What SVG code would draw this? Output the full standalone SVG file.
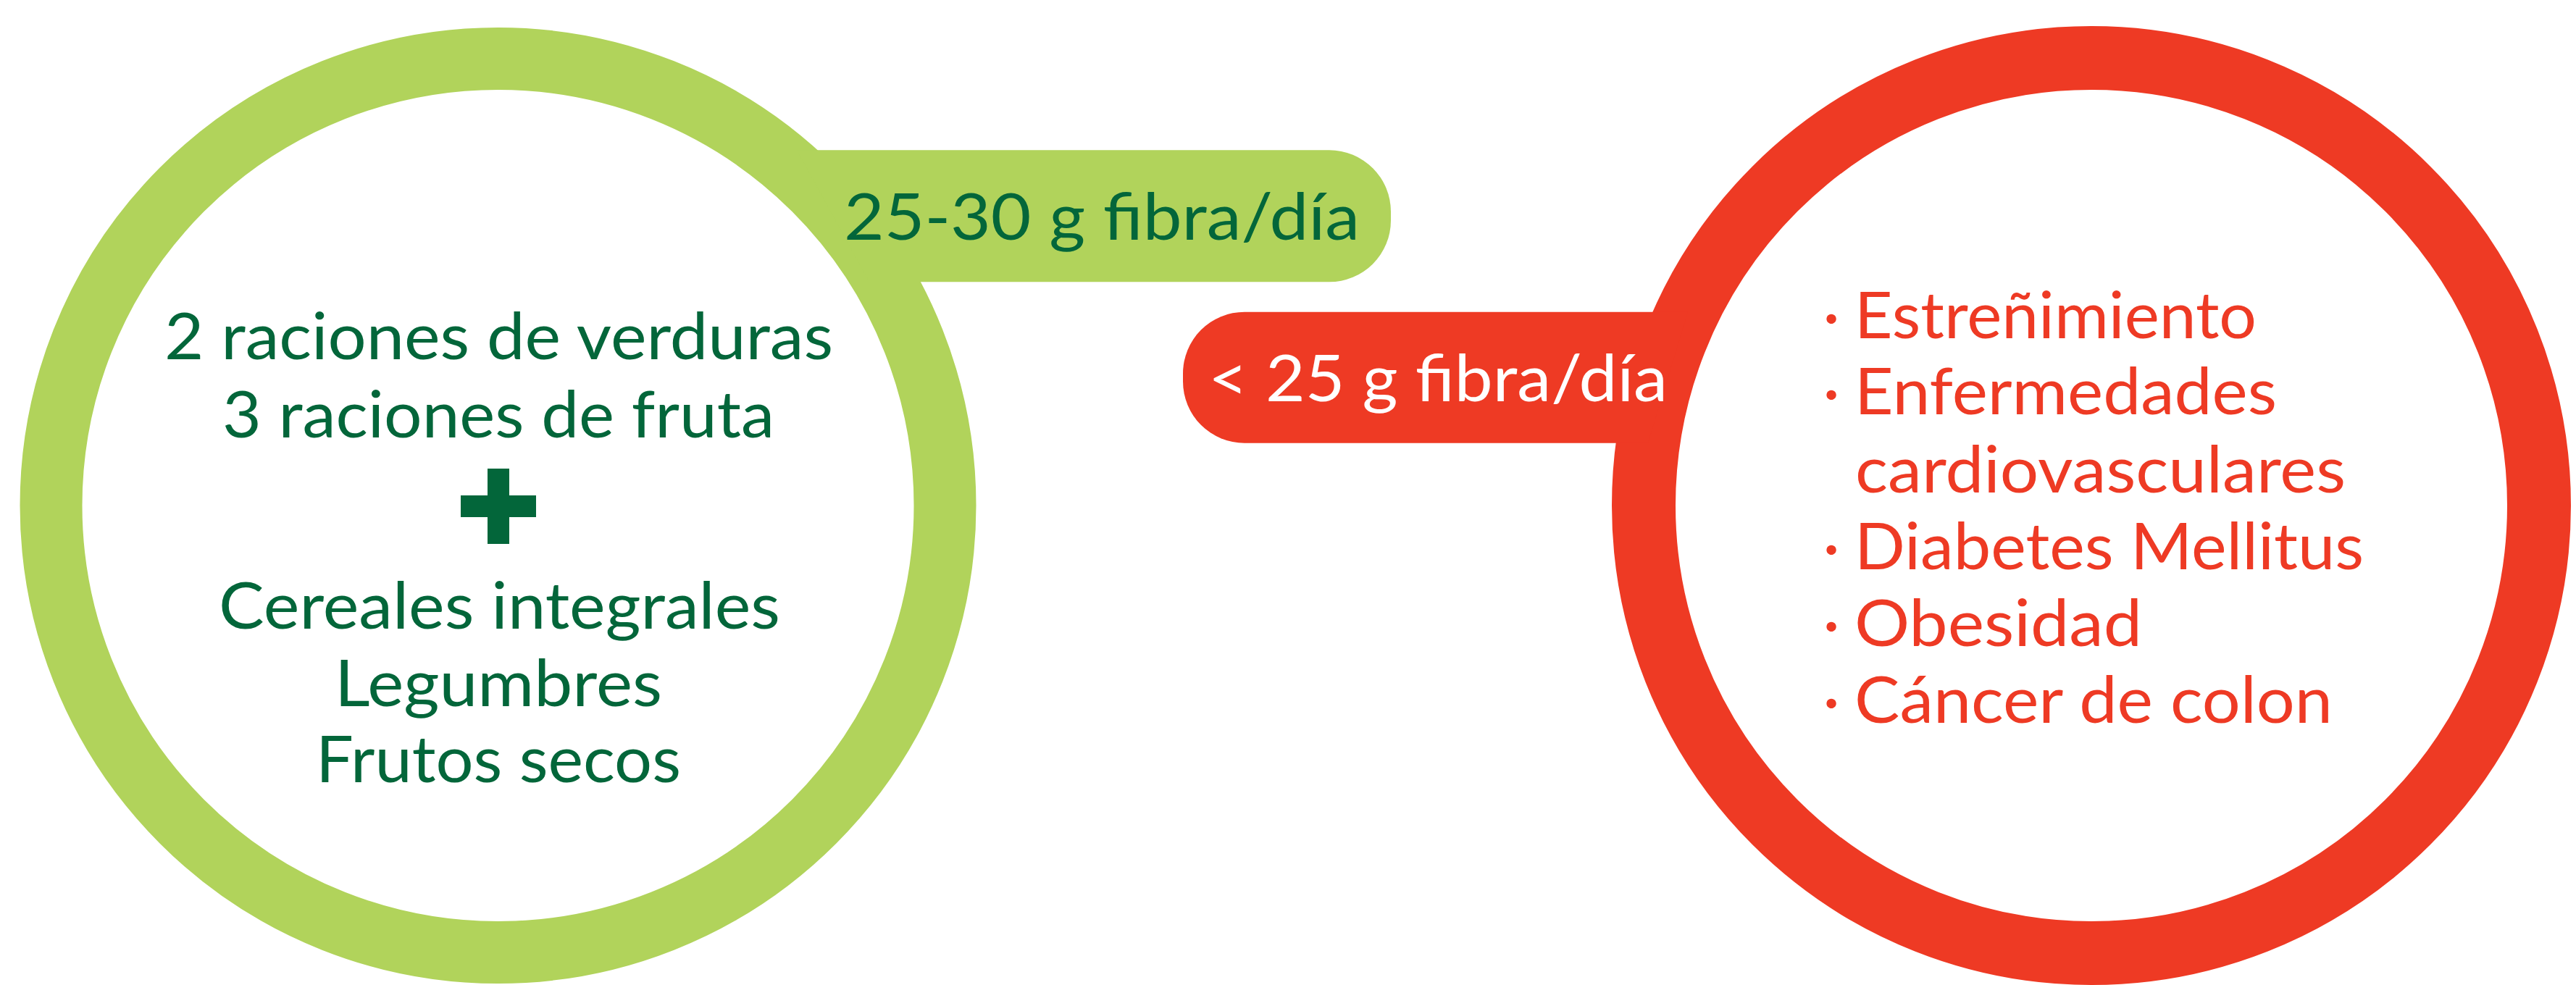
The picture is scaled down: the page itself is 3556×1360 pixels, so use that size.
<svg xmlns="http://www.w3.org/2000/svg" width="3556" height="1360" viewBox="0 0 3556 1360">
  <style>
    .txt { font-family: Lato, "Open Sans", "Liberation Sans", sans-serif; font-size: 89px; font-weight: 400; }
    .green-txt { fill: #03663A; }
    .red-txt { fill: #EE3A24; }
    .white-txt { fill: #FFFFFF; }
    .ring-green { fill: #FFFFFF; stroke: #B1D35B; stroke-width: 86; }
    .ring-red { fill: #FFFFFF; stroke: #EE3A24; stroke-width: 88; }
    .tab-green { fill: #B1D35B; }
    .tab-red { fill: #EE3A24; }
  </style>
  <rect width="3556" height="1360" fill="#FFFFFF"/>

  <!-- Left node: recommended intake -->
  <g id="node-recomendado">
    <circle class="ring-green" cx="687.5" cy="698" r="617"/>
    <text class="txt green-txt" x="227" y="496" textLength="923" lengthAdjust="spacingAndGlyphs">2 raciones de verduras</text>
    <text class="txt green-txt" x="307" y="604" textLength="762" lengthAdjust="spacingAndGlyphs">3 raciones de fruta</text>
    <g id="plus" fill="#03663A">
      <rect x="673" y="647" width="30" height="104"/>
      <rect x="636" y="684" width="104" height="30"/>
    </g>
    <text class="txt green-txt" x="302" y="868" textLength="775" lengthAdjust="spacingAndGlyphs">Cereales integrales</text>
    <text class="txt green-txt" x="462" y="975" textLength="452" lengthAdjust="spacingAndGlyphs">Legumbres</text>
    <text class="txt green-txt" x="436" y="1080" textLength="504" lengthAdjust="spacingAndGlyphs">Frutos secos</text>
  </g>

  <!-- Right node: associated risks -->
  <g id="node-riesgos">
    <circle class="ring-red" cx="2887" cy="698" r="618"/>
    <g class="txt red-txt">
      <text x="2528" y="467" text-anchor="middle">·</text>
      <text x="2560" y="467" textLength="555" lengthAdjust="spacingAndGlyphs">Estreñimiento</text>
      <text x="2528" y="572" text-anchor="middle">·</text>
      <text x="2560" y="572" textLength="583" lengthAdjust="spacingAndGlyphs">Enfermedades</text>
      <text x="2561" y="680" textLength="677" lengthAdjust="spacingAndGlyphs">cardiovasculares</text>
      <text x="2528" y="786" text-anchor="middle">·</text>
      <text x="2560" y="786" textLength="703" lengthAdjust="spacingAndGlyphs">Diabetes Mellitus</text>
      <text x="2528" y="892" text-anchor="middle">·</text>
      <text x="2560" y="892" textLength="397" lengthAdjust="spacingAndGlyphs">Obesidad</text>
      <text x="2528" y="998" text-anchor="middle">·</text>
      <text x="2560" y="998" textLength="660" lengthAdjust="spacingAndGlyphs">Cáncer de colon</text>
    </g>
  </g>

  <!-- Connectors: the two tabs that leave the rings -->
  <g id="connectors">
    <g id="tab-green">
      <path class="tab-green" d="M1100,207.3 H1835 A85,85 0 0 1 1920,292.3 V304.3 A85,85 0 0 1 1835,389.3 H1200 Z"/>
      <text class="txt green-txt" x="1165" y="331" textLength="712" lengthAdjust="spacingAndGlyphs">25-30 g fibra/día</text>
    </g>
    <g id="tab-red">
      <path class="tab-red" d="M2330,430.7 H1718 A85,85 0 0 0 1633,515.7 V526.7 A85,85 0 0 0 1718,611.7 H2275 Z"/>
      <text class="txt white-txt" x="1668" y="554" textLength="634" lengthAdjust="spacingAndGlyphs">&lt; 25 g fibra/día</text>
    </g>
  </g>
</svg>
